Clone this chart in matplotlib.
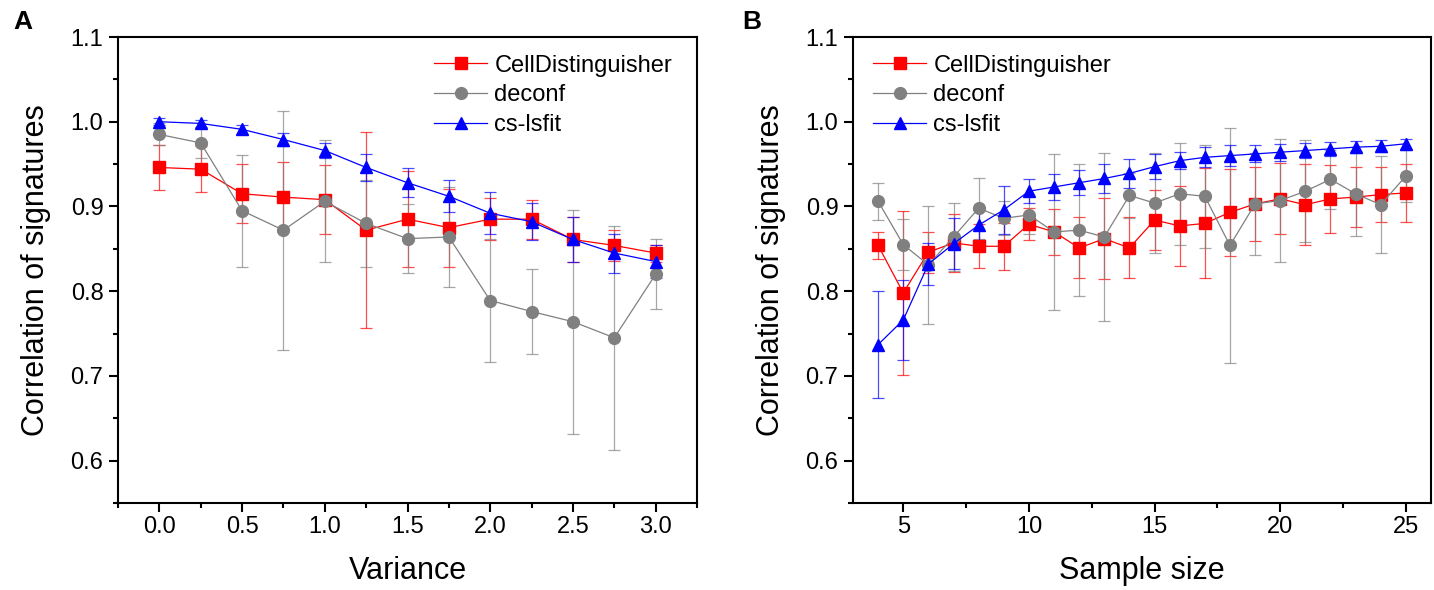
import matplotlib
matplotlib.use("Agg")
import matplotlib.pyplot as plt
from matplotlib.ticker import MultipleLocator, FormatStrFormatter

plt.rcParams["font.family"] = ["Liberation Sans", "DejaVu Sans"]

# Panel A: correlation vs variance
variance = [0.0, 0.25, 0.5, 0.75, 1.0, 1.25, 1.5, 1.75, 2.0, 2.25, 2.5, 2.75, 3.0]
cd_a = [0.946, 0.944, 0.915, 0.911, 0.908, 0.872, 0.885, 0.875, 0.885, 0.885, 0.861, 0.854, 0.845]
cd_a_err = [0.027, 0.027, 0.035, 0.041, 0.041, 0.116, 0.057, 0.046, 0.025, 0.023, 0.027, 0.018, 0.010]
deconf_a = [0.985, 0.975, 0.895, 0.872, 0.906, 0.880, 0.862, 0.864, 0.789, 0.776, 0.764, 0.745, 0.820]
deconf_a_err = [0.013, 0.018, 0.066, 0.141, 0.072, 0.051, 0.041, 0.059, 0.072, 0.050, 0.132, 0.132, 0.041]
cs_a = [1.000, 0.998, 0.991, 0.979, 0.966, 0.946, 0.928, 0.912, 0.892, 0.882, 0.861, 0.845, 0.835]
cs_a_err = [0.004, 0.004, 0.005, 0.008, 0.009, 0.016, 0.017, 0.019, 0.025, 0.022, 0.027, 0.023, 0.019]

# Panel B: correlation vs sample size
sample_size = list(range(4, 26))
cd_b = [0.854, 0.798, 0.846, 0.857, 0.853, 0.853, 0.879, 0.870, 0.851, 0.862, 0.851,
        0.884, 0.877, 0.880, 0.893, 0.903, 0.909, 0.902, 0.909, 0.911, 0.914, 0.916]
cd_b_err = [0.016, 0.097, 0.024, 0.034, 0.026, 0.028, 0.019, 0.027, 0.036, 0.048, 0.036,
            0.035, 0.047, 0.065, 0.051, 0.044, 0.042, 0.048, 0.040, 0.035, 0.032, 0.034]
deconf_b = [0.906, 0.855, 0.831, 0.864, 0.898, 0.886, 0.890, 0.870, 0.872, 0.864, 0.913,
            0.904, 0.915, 0.912, 0.854, 0.903, 0.907, 0.918, 0.932, 0.915, 0.902, 0.936]
deconf_b_err = [0.022, 0.030, 0.070, 0.040, 0.036, 0.020, 0.022, 0.092, 0.078, 0.099, 0.027,
                0.059, 0.060, 0.061, 0.139, 0.060, 0.073, 0.060, 0.035, 0.050, 0.057, 0.031]
cs_b = [0.737, 0.766, 0.832, 0.856, 0.878, 0.896, 0.918, 0.923, 0.928, 0.933, 0.939,
        0.947, 0.954, 0.958, 0.960, 0.962, 0.964, 0.966, 0.968, 0.970, 0.971, 0.974]
cs_b_err = [0.063, 0.047, 0.025, 0.030, 0.018, 0.028, 0.014, 0.015, 0.015, 0.017, 0.017,
            0.015, 0.010, 0.012, 0.012, 0.010, 0.010, 0.009, 0.008, 0.007, 0.007, 0.006]

labels = ["CellDistinguisher", "deconf", "cs-lsfit"]
colors = ["#ff0000", "#808080", "#0000ff"]
markers = ["s", "o", "^"]
msizes = [8, 8.5, 9]


def draw(ax, xs, series, errs, xlabel, leg_x):
    handles = []
    for ys, es, lab, c, m, ms in zip(series, errs, labels, colors, markers, msizes):
        cont = ax.errorbar(xs, ys, yerr=es, color=c, ecolor=c, elinewidth=0.9,
                           capsize=4, capthick=0.9, lw=0.9, marker=m, ms=ms,
                           mec=c, mfc=c, label=lab)
        # error bars drawn a little lighter than the data line
        for art in list(cont[1]) + list(cont[2]):
            art.set_alpha(0.7)
        handles.append(cont[0])
    ax.set_ylim(0.55, 1.1)
    ax.yaxis.set_major_locator(MultipleLocator(0.1))
    ax.yaxis.set_minor_locator(MultipleLocator(0.05))
    ax.yaxis.set_major_formatter(FormatStrFormatter("%.1f"))
    ax.set_ylabel("Correlation of signatures", fontsize=22, labelpad=14)
    ax.set_xlabel(xlabel, fontsize=22, labelpad=13)
    for s in ax.spines.values():
        s.set_linewidth(1.5)
    ax.tick_params(which="major", direction="out", length=6.5, width=1.5,
                   labelsize=17, pad=4)
    ax.tick_params(which="minor", direction="out", length=3.6, width=1.5)
    ax.tick_params(axis="x", which="major", pad=3)
    ax.legend(handles, labels, loc="upper left", bbox_to_anchor=(leg_x, 0.962),
              frameon=False, fontsize=17, handlelength=2.25, handletextpad=0.3,
              labelspacing=0.33, borderpad=0, borderaxespad=0)


fig = plt.figure(figsize=(14.34, 5.9), dpi=100)
ax_a = fig.add_axes([118 / 1434, 87 / 590, 579 / 1434, 466 / 590])
ax_b = fig.add_axes([853 / 1434, 87 / 590, 578 / 1434, 466 / 590])

draw(ax_a, variance, [cd_a, deconf_a, cs_a], [cd_a_err, deconf_a_err, cs_a_err],
     "Variance", 0.546)
ax_a.set_xlim(-0.25, 3.25)
ax_a.xaxis.set_major_locator(MultipleLocator(0.5))
ax_a.xaxis.set_minor_locator(MultipleLocator(0.25))
ax_a.xaxis.set_major_formatter(FormatStrFormatter("%.1f"))

draw(ax_b, sample_size, [cd_b, deconf_b, cs_b], [cd_b_err, deconf_b_err, cs_b_err],
     "Sample size", 0.035)
ax_b.set_xlim(3, 26)
ax_b.xaxis.set_major_locator(MultipleLocator(5))
ax_b.xaxis.set_minor_locator(MultipleLocator(2.5))

fig.text(23 / 1434, 1 - 22 / 590, "A", fontsize=19, fontweight="bold",
         ha="center", va="center")
fig.text(752 / 1434, 1 - 22 / 590, "B", fontsize=19, fontweight="bold",
         ha="center", va="center")

fig.savefig("out.png", dpi=100)
